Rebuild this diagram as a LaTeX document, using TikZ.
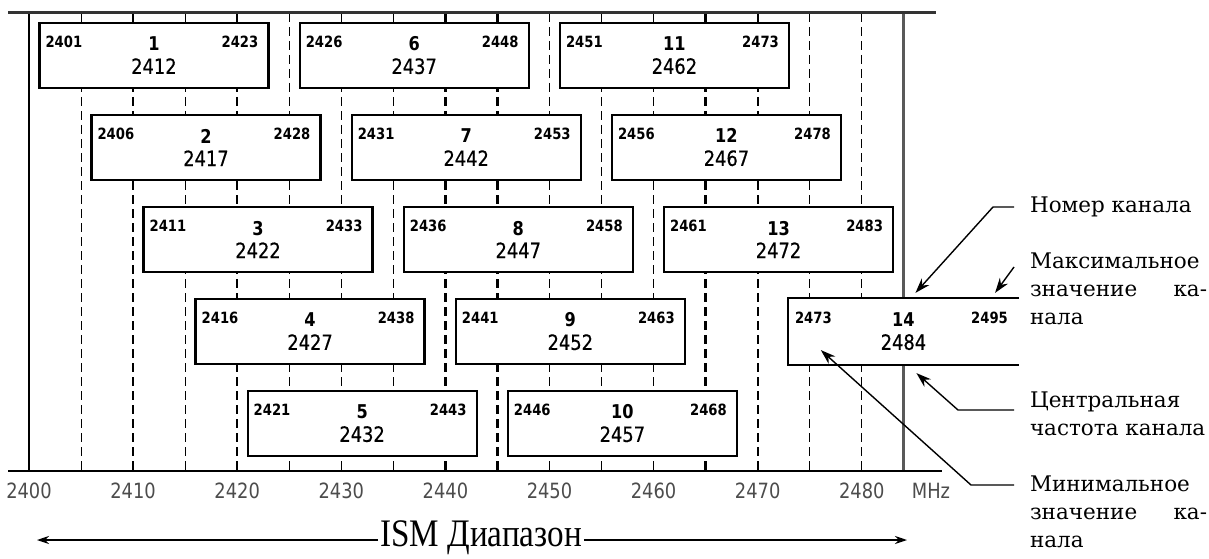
\documentclass[tikz,border=0pt]{standalone}
\usepackage{fontspec}
\newfontfamily\boxfont[FakeStretch=0.85]{DejaVu Sans}
\newfontfamily\freqfont[FakeStretch=0.85, FakeBold=0.5]{DejaVu Sans}
\newfontfamily\notefont{DejaVu Serif}
\newfontfamily\ismfont[FakeStretch=0.85]{Liberation Serif}
\usetikzlibrary{arrows.meta, calc}
\newcommand{\frx}[1]{29+(#1-2400)*10.41}
\newcommand{\chnum}{\boxfont\bfseries\fontsize{19}{22}\selectfont}

\begin{document}
\begin{tikzpicture}[x=1pt, y=-1pt,
  chbox/.style={draw, line width=2.2pt, fill=white, minimum width=229pt, minimum height=65pt,
                inner sep=0pt, align=center, font=\freqfont\fontsize{21}{23}\selectfont},
  edge/.style={inner sep=0pt, font=\boxfont\bfseries\fontsize{15.5}{16}\selectfont},
  grid/.style={dash pattern=on 9pt off 5pt},
  tick/.style={inner sep=0pt, text=black!70, font=\boxfont\fontsize{21}{22}\selectfont},
  note/.style={inner sep=0pt, outer xsep=16pt, font=\notefont\fontsize{21.5}{28}\selectfont},
  lead/.style={line width=1.4pt, -{Stealth[length=15pt, width=10pt]}},
]
  \useasboundingbox (0,0) rectangle (1209,559);

  % frequency grid
  \foreach \f/\w in {2405/1,2410/1.8,2415/1,2420/2.4,2425/1,2430/1,2435/1.3,2440/2.4,
                     2445/2.4,2450/1,2455/1,2460/1,2465/2.4,2470/2.4,2475/1,2480/1}
    \draw[grid, line width=\w pt] ({\frx{\f}},13) -- ({\frx{\f}},471);
  \draw[line width=2.6pt] ({\frx{2400}},13) -- ({\frx{2400}},471);
  \draw[line width=2.8pt, black!65] ({\frx{2484}},13) -- ({\frx{2484}},471);
  \draw[line width=3pt, black!80] (8,13) -- (936,13);
  \draw[line width=2.4pt] (8,471) -- (942,471);

  \foreach \f in {2400,2410,...,2480}
    \node[tick] (t\f) at ({\frx{\f}},491) {\f};
  \node[tick] (mhz) at (931,491) {MHz};

  % channels
  \foreach \n in {1,...,13} {
    \pgfmathtruncatemacro\fc{2407+5*\n}
    \pgfmathtruncatemacro\flo{\fc-11}
    \pgfmathtruncatemacro\fhi{\fc+11}
    \pgfmathsetmacro\ry{55.5+92*mod(\n-1,5)}
    \node[chbox] (ch\n) at ({\frx{\fc}},\ry) {{\chnum\n}\\\fc};
    \node[edge, anchor=west] (lo\n) at ([xshift=7pt,yshift=-20pt]ch\n.north west) {\flo};
    \node[edge, anchor=east] (hi\n) at ([xshift=-11pt,yshift=-20pt]ch\n.north east) {\fhi};
  }
  \node[chbox, draw=none] (ch14) at ({\frx{2484}},331.5) {{\chnum 14}\\2484};
  \draw[line width=2.2pt] (ch14.north east) -- (ch14.north west) -- (ch14.south west) -- (ch14.south east);
  \node[edge, anchor=west] (lo14) at ([xshift=7pt,yshift=-20pt]ch14.north west) {2473};
  \node[edge, anchor=east] (hi14) at ([xshift=-11pt,yshift=-20pt]ch14.north east) {2495};

  % legend
  \node[note, anchor=west] (tnum) at (1014,207) {Номер канала};
  \node[note, anchor=west, text width=177pt, align=left] (tmax) at (1014,289)
    {Максимальное\\значение\hfill ка-\\нала};
  \node[note, anchor=west, align=left] (tcen) at (1014,414) {Центральная\\частота канала};
  \node[note, anchor=west, text width=177pt, align=left] (tmin) at (1014,512)
    {Минимальное\\значение\hfill ка-\\нала};

  \coordinate (numtip) at ([xshift=12pt,yshift=5pt]ch14.north);
  \coordinate (maxtip) at ([xshift=-24pt,yshift=5pt]ch14.north east);
  \coordinate (centip) at ([xshift=13pt,yshift=-8pt]ch14.south);
  \coordinate (mintip) at ([xshift=33pt,yshift=15pt]ch14.south west);
  \draw[lead] (tnum.west) -- ++(-21,0) -- (numtip);
  \draw[lead] ([yshift=22pt]tmax.west) -- (maxtip);
  \draw[lead] ([yshift=4pt]tcen.west) -- ++(-56,0) -- (centip);
  \draw[lead] ([yshift=27pt]tmin.west) -- ++(-43,0) -- (mintip);

  % ISM band
  \node[inner sep=2pt, font=\ismfont\fontsize{39}{39}\selectfont] (ism) at (481,538) {ISM Диапазон};
  \coordinate (bandl) at (37,540);
  \coordinate (bandr) at (907,540);
  \draw[line width=1.5pt, -{Stealth[length=12pt, width=8pt]}] (ism.west |- bandl) -- (bandl);
  \draw[line width=1.5pt, -{Stealth[length=12pt, width=8pt]}] (ism.east |- bandr) -- (bandr);
\end{tikzpicture}
\end{document}
